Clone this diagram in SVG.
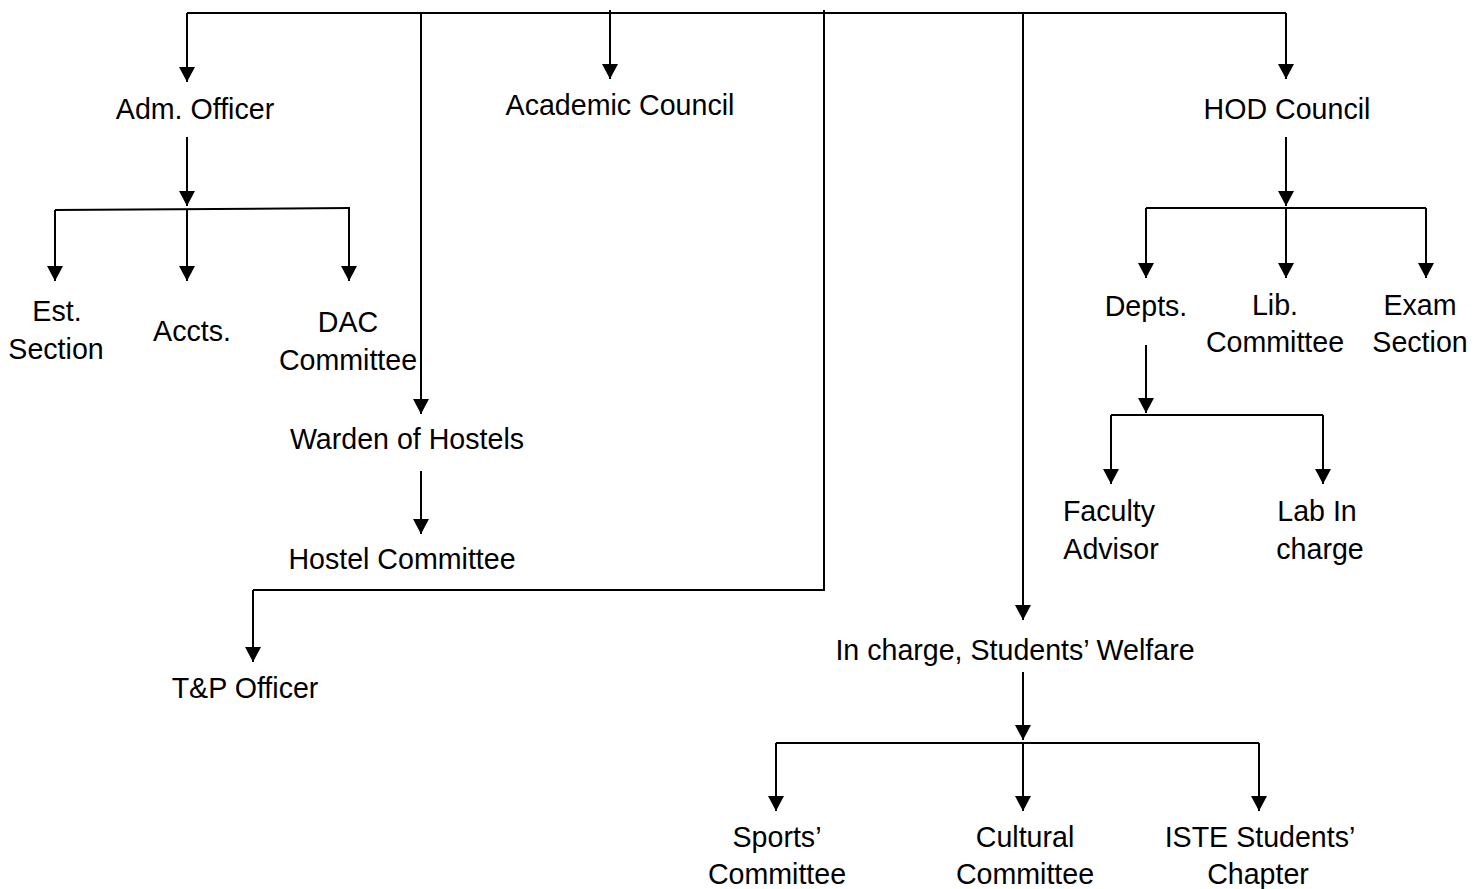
<svg xmlns="http://www.w3.org/2000/svg" width="1479" height="889" viewBox="0 0 1479 889">
<style>
text{font-family:"Liberation Sans",Arial,sans-serif;font-size:28.6px;fill:#000;text-anchor:middle}
.c{fill:none;stroke:#000;stroke-width:2}
.a{marker-end:url(#ah)}
</style>
<defs>
<marker id="ah" viewBox="0 0 15 16" refX="15" refY="8" markerWidth="15" markerHeight="16" markerUnits="userSpaceOnUse" orient="auto">
<path d="M0,0 L15,8 L0,16 z" fill="#000"/>
</marker>
</defs>
<rect width="1479" height="889" fill="#fff"/>
<g id="connectors">
<path class="c" d="M187,13 H1286"/>
<path class="c a" d="M187,13 V82"/>
<path class="c a" d="M610,10 V79"/>
<path class="c a" d="M1286,13 V79"/>
<path class="c a" d="M421,13 V414"/>
<path class="c" d="M824,10 V590 H253"/>
<path class="c a" d="M253,590 V662"/>
<path class="c a" d="M1023,13 V620"/>
<path class="c a" d="M187,137 V206"/>
<path class="c" d="M55,210 L350,208"/>
<path class="c a" d="M55,210 V281"/>
<path class="c a" d="M187,209 V281"/>
<path class="c a" d="M349,208 V281"/>
<path class="c a" d="M421,471 V534"/>
<path class="c a" d="M1286,137 V206"/>
<path class="c" d="M1146,208 H1426"/>
<path class="c a" d="M1146,208 V278"/>
<path class="c a" d="M1286,208 V278"/>
<path class="c a" d="M1426,208 V278"/>
<path class="c a" d="M1146,345 V413"/>
<path class="c" d="M1111,415 H1323"/>
<path class="c a" d="M1111,415 V484"/>
<path class="c a" d="M1323,415 V484"/>
<path class="c a" d="M1023,672 V740"/>
<path class="c" d="M776,743 H1259"/>
<path class="c a" d="M776,743 V811"/>
<path class="c a" d="M1023,743 V811"/>
<path class="c a" d="M1259,743 V811"/>
</g>
<g id="adm-officer"><text x="195" y="119">Adm. Officer</text></g>
<g id="academic-council"><text x="620" y="115">Academic Council</text></g>
<g id="hod-council"><text x="1287" y="119">HOD Council</text></g>
<g id="est-section"><text x="57" y="321">Est.</text><text x="56" y="359">Section</text></g>
<g id="accts"><text x="192" y="341">Accts.</text></g>
<g id="dac-committee"><text x="348" y="332">DAC</text><text x="348" y="370">Committee</text></g>
<g id="warden"><text x="407" y="449">Warden of Hostels</text></g>
<g id="hostel-committee"><text x="402" y="569">Hostel Committee</text></g>
<g id="tp-officer"><text x="245" y="698">T&amp;P Officer</text></g>
<g id="students-welfare"><text x="1015" y="660">In charge, Students’ Welfare</text></g>
<g id="sports"><text x="777" y="847">Sports’</text><text x="777" y="884">Committee</text></g>
<g id="cultural"><text x="1025" y="847">Cultural</text><text x="1025" y="884">Committee</text></g>
<g id="iste"><text x="1260" y="847">ISTE Students’</text><text x="1258" y="884">Chapter</text></g>
<g id="depts"><text x="1146" y="316">Depts.</text></g>
<g id="lib-committee"><text x="1275" y="315">Lib.</text><text x="1275" y="352">Committee</text></g>
<g id="exam-section"><text x="1420" y="315">Exam</text><text x="1420" y="352">Section</text></g>
<g id="faculty-advisor"><text x="1109" y="521">Faculty</text><text x="1111" y="559">Advisor</text></g>
<g id="lab-incharge"><text x="1317" y="521">Lab In</text><text x="1320" y="559">charge</text></g>
</svg>
